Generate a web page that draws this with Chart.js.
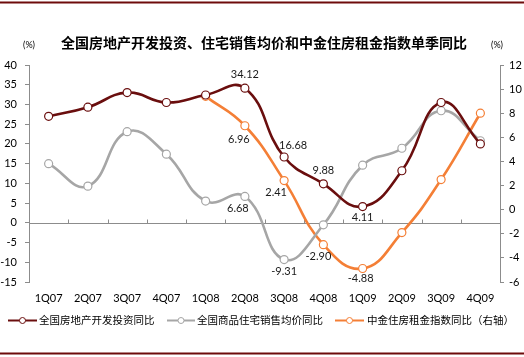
<!DOCTYPE html>
<html><head><meta charset="utf-8">
<script src="https://cdn.jsdelivr.net/npm/chart.js@4/dist/chart.umd.min.js"></script>
<style>html,body{margin:0;padding:0;background:#fff;}#wrap{width:524px;height:357px;position:relative;}</style>
</head><body><div id="wrap"><canvas id="c" width="524" height="357"></canvas></div>
<script>
// ---- data ----
const chartTitle = '全国房地产开发投资、住宅销售均价和中金住房租金指数单季同比';
const unitLabel = '(%)';
const categories = ['1Q07','2Q07','3Q07','4Q07','1Q08','2Q08','3Q08','4Q08','1Q09','2Q09','3Q09','4Q09'];
const seriesNames = ['全国房地产开发投资同比','全国商品住宅销售均价同比','中金住房租金指数同比（右轴）'];
const investYoY = [27.0, 29.3, 33.0, 30.5, 32.4, 34.12, 16.68, 9.88, 4.11, 13.2, 30.5, 20.0];
const priceYoY  = [15.0, 9.3, 23.1, 17.4, 5.5, 6.68, -9.31, -0.5, 14.6, 18.9, 28.4, 20.8];
const rentYoY   = [null, null, null, null, 9.4, 6.96, 2.41, -2.90, -4.88, -1.9, 2.5, 8.0];
const leftAxis = {min: -15, max: 40, step: 5};
const rightAxis = {min: -6, max: 12, step: 2};
// indices of points carrying a value label, per series
const investLabelIdx = [5, 6, 7, 8];
const priceLabelIdx = [5, 6];
const rentLabelIdx = [5, 6, 7, 8];

// ---- styles ----
const C_DARK = '#6A0E0E', C_GRAY = '#A6A6A6', C_ORANGE = '#F47F36', C_AXIS = '#8C8C8C', C_FRAME = '#6E0B0B';
const labelOffsets = [
  {5:[0,-14], 6:[9,-12], 7:[0,-13], 8:[0,11]},
  {5:[-7,12], 6:[0,12]},
  {5:[-6,14], 6:[-8,12], 7:[-5,12], 8:[-2,10]}
];
const TICK_FONT = {family: 'Lato, "Liberation Sans", sans-serif', size: 11};
const CJK = '"Noto Sans CJK SC", sans-serif';

function ds(label, data, color, axis) {
  return {label, data, yAxisID: axis, borderColor: color, backgroundColor: '#fff',
    borderWidth: 2.6, tension: 0.45, pointRadius: 4, pointHoverRadius: 4,
    pointBorderWidth: 1.2, pointBorderColor: color, pointBackgroundColor: '#fff', spanGaps: false};
}

const decor = {
  id: 'decor',
  beforeDatasetsDraw(chart) {
    const ctx = chart.ctx, x = chart.scales.x, y = chart.scales.y;
    const y0 = Math.round(y.getPixelForValue(0)) + 0.5;
    ctx.save();
    ctx.strokeStyle = C_AXIS; ctx.lineWidth = 1;
    ctx.beginPath(); ctx.moveTo(chart.chartArea.left, y0); ctx.lineTo(chart.chartArea.right, y0); ctx.stroke();
    const half = (x.getPixelForValue(1) - x.getPixelForValue(0)) / 2;
    for (let i = 0; i <= categories.length; i++) {
      const px = Math.round(x.getPixelForValue(i) - half) + 0.5;
      ctx.beginPath(); ctx.moveTo(px, y0); ctx.lineTo(px, y0 - 4); ctx.stroke();
    }
    ctx.restore();
  },
  afterDraw(chart) {
    const ctx = chart.ctx;
    ctx.save();
    // frame lines
    ctx.fillStyle = C_FRAME;
    ctx.fillRect(0, 1.5, 524, 2);
    ctx.fillRect(0, 352.5, 524, 2);
    // title
    ctx.fillStyle = '#000';
    ctx.font = 'bold 14px ' + CJK;
    ctx.textAlign = 'center'; ctx.textBaseline = 'middle';
    ctx.fillText(chartTitle, 264, 43);
    ctx.font = '9px ' + TICK_FONT.family;
    ctx.fillText(unitLabel, 29, 45);
    ctx.fillText(unitLabel, 497, 45);
    // value labels
    ctx.font = '11px ' + TICK_FONT.family;
    ctx.fillStyle = '#1a1a1a';
    const idxSets = [investLabelIdx, priceLabelIdx, rentLabelIdx];
    idxSets.forEach((set, d) => {
      const meta = chart.getDatasetMeta(d);
      set.forEach(i => {
        const p = meta.data[i]; const v = chart.data.datasets[d].data[i];
        const o = labelOffsets[d][i] || [0, -12];
        ctx.fillText(v.toFixed(2), p.x + o[0], p.y + o[1]);
      });
    });
    // legend
    const items = [
      {x0: 8, x1: 37, tx: 39, color: C_DARK},
      {x0: 167, x1: 195, tx: 197, color: C_GRAY},
      {x0: 335, x1: 364, tx: 367, color: C_ORANGE}
    ];
    const ly = 320.5;
    items.forEach((it, i) => {
      ctx.strokeStyle = it.color; ctx.lineWidth = 2;
      ctx.beginPath(); ctx.moveTo(it.x0, ly); ctx.lineTo(it.x1, ly); ctx.stroke();
      ctx.beginPath(); ctx.arc((it.x0 + it.x1) / 2, ly, 3, 0, Math.PI * 2);
      ctx.fillStyle = '#fff'; ctx.fill(); ctx.lineWidth = 1; ctx.stroke();
      ctx.fillStyle = '#000'; ctx.textAlign = 'left';
      ctx.font = '10.5px ' + CJK;
      ctx.fillText(chart.data.datasets[i].label, it.tx, ly);
    });
    ctx.restore();
  }
};

new Chart(document.getElementById('c'), {
  type: 'line',
  data: {
    labels: categories,
    datasets: [
      ds(seriesNames[0], investYoY, C_DARK, 'y'),
      ds(seriesNames[1], priceYoY, C_GRAY, 'y'),
      ds(seriesNames[2], rentYoY, C_ORANGE, 'y1')
    ]
  },
  options: {
    responsive: false, devicePixelRatio: 1, animation: false,
    layout: {padding: {top: 65, left: 0, right: 0, bottom: 0}},
    plugins: {legend: {display: false}, title: {display: false}, tooltip: {enabled: false}},
    scales: {
      x: {offset: true, grid: {display: false, drawTicks: false}, border: {display: false},
          ticks: {font: TICK_FONT, color: '#000', padding: 10, maxRotation: 0, autoSkip: false},
          afterFit(s) { s.height = 75; }},
      y: {position: 'left', min: leftAxis.min, max: leftAxis.max,
          ticks: {stepSize: leftAxis.step, font: TICK_FONT, color: '#000', padding: 8},
          grid: {drawOnChartArea: false, tickLength: 4, color: C_AXIS},
          border: {color: C_AXIS},
          afterFit(s) { s.width = 29; }},
      y1: {position: 'right', min: rightAxis.min, max: rightAxis.max,
          ticks: {stepSize: rightAxis.step, font: TICK_FONT, color: '#000', padding: 5},
          grid: {drawOnChartArea: false, tickLength: 4, color: C_AXIS},
          border: {color: C_AXIS},
          afterFit(s) { s.width = 24; }}
    }
  },
  plugins: [decor]
});
</script></body></html>
